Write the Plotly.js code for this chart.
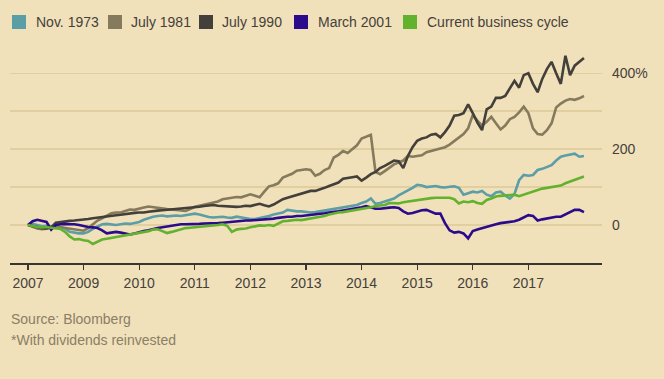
<!DOCTYPE html>
<html>
<head>
<meta charset="utf-8">
<script src="https://cdn.plot.ly/plotly-3.0.1.min.js"></script>
<style>
html,body{margin:0;padding:0;background:#f1e1ba;}
#chart{width:664px;height:379px;}
</style>
</head>
<body>
<div id="chart"></div>
<script>
// months since the start of each business cycle
var months = [0,1,2,3,4,5,6,7,8,9,10,11,12,13,14,15,16,17,18,19,20,21,22,23,24,25,26,27,28,29,
30,31,32,33,34,35,36,37,38,39,40,41,42,43,44,45,46,47,48,49,50,51,52,53,54,55,56,57,58,59,
60,61,62,63,64,65,66,67,68,69,70,71,72,73,74,75,76,77,78,79,80,81,82,83,84,85,86,87,88,89,
90,91,92,93,94,95,96,97,98,99,100,101,102,103,104,105,106,107,108,109,110,111,112,113,114,115,116,117,118,119,120];

var seriesNames = ["Nov. 1973", "July 1981", "July 1990", "March 2001", "Current business cycle"];

var nov1973 = [0,3,0,-3,-2,-4,-6,-5,-9,-18,
-20,-22,-22,-18,-10,-5,2,3,1,0,
2,4,3,6,8,14,19,22,24,25,
23,24,25,24,26,29,30,28,24,21,
20,21,22,20,19,22,20,18,16,16,
18,20,24,28,30,33,40,38,36,36,
34,33,34,36,37,40,42,44,46,48,
50,53,58,62,70,56,58,62,66,70,
78,84,92,98,106,104,100,102,103,100,
99,101,102,98,80,84,88,86,90,80,
76,86,88,78,70,82,118,132,130,132,
145,148,152,158,170,180,183,186,188,180,182];

var july1981 = [0,-5,-9,-11,-10,-6,-4,-6,-8,-10,
-12,-14,-15,-8,3,12,18,25,31,33,
33,37,41,40,42,46,49,47,45,44,
42,41,40,39,37,42,48,51,54,55,
58,62,68,70,72,74,73,77,81,77,
73,88,102,105,110,125,129,135,143,146,
147,145,130,135,145,150,178,185,195,190,
200,210,228,232,238,140,134,142,152,160,
165,170,182,180,182,184,192,195,198,200,
205,212,222,230,240,255,290,275,262,272,
285,268,252,262,279,285,297,312,295,255,
240,238,250,268,310,320,328,332,330,334,340];

var july1990 = [0,-3,-6,-8,-9,-6,6,8,9,11,
12,13,15,16,18,20,21,23,25,26,
27,29,30,32,33,33,35,37,38,39,
40,41,42,44,45,46,47,48,50,52,
53,51,50,48,47,48,49,51,50,53,
56,52,49,54,62,68,72,76,80,83,
86,90,90,93,98,103,107,112,122,125,
126,128,117,125,134,140,150,156,163,170,
168,150,182,205,222,228,231,238,240,231,
245,262,288,290,295,318,295,270,250,305,
312,335,335,340,360,380,362,395,400,372,
350,385,411,430,400,372,446,395,420,430,440];

var march2001 = [0,10,14,12,8,-12,0,2,3,2,
2,0,-3,-5,-6,-8,-14,-22,-20,-18,
-20,-22,-25,-22,-18,-16,-14,-10,-8,-6,
-4,-2,0,2,2,2,3,3,4,4,
4,5,6,7,10,11,11,12,12,13,
14,15,15,17,19,21,22,22,24,24,
25,26,28,30,31,33,34,36,38,40,
42,44,47,50,47,43,43,45,46,47,
45,36,30,32,36,39,40,34,30,30,
5,-14,-20,-18,-22,-35,-16,-12,-8,-4,
-2,2,5,6,8,10,14,20,26,24,
12,15,18,20,22,22,28,34,40,40,34];

var currentCycle = [0,-3,-5,-6,-5,-7,-8,-10,-18,-30,
-38,-37,-40,-42,-50,-44,-38,-36,-34,-31,
-29,-27,-24,-22,-20,-18,-16,-12,-11,-16,
-21,-18,-14,-10,-8,-7,-6,-4,-3,-2,
-1,0,2,-2,-18,-12,-10,-9,-6,-3,
-1,-2,0,-2,4,10,11,12,14,13,
15,16,18,22,24,28,31,33,34,36,
38,41,42,45,47,50,51,53,58,58,
57,60,62,63,66,68,70,71,72,72,
73,72,68,57,62,60,63,58,56,66,
70,75,77,78,80,80,76,80,86,89,
94,96,98,100,103,104,110,114,118,122,128];

var xTickVals = [0,12,24,36,48,60,72,84,96,108];
var xTickText = ["2007","2009","2010","2011","2012","2013","2014","2015","2016","2017"];
var yTickVals = [0,100,200,300,400];
var yTickText = ["0","","200","","400%"];

var colors = ["#5b9ea6", "#857a5c", "#433f3a", "#2b0a8c", "#62b22f"];
var allSeries = [nov1973, july1981, july1990, march2001, currentCycle];

var FONT = "Liberation Sans, Arial, sans-serif";
var TEXT = "#45403a";

var traces = allSeries.map(function(s, i){
  return {x: months, y: s, type: "scatter", mode: "lines", name: seriesNames[i],
          line: {color: colors[i], width: 2.6}, hoverinfo: "skip"};
});

// plot area pixel geometry
var W = 664, H = 379, L = 10, R = 62, T = 45, B = 116;
var pw = W - L - R, ph = H - T - B;
function px(x){ return (x - L) / pw; }
function py(y){ return (H - B - y) / ph; }

var legendBox = [12, 108, 199, 294, 403];
var legendText = [35, 130, 221, 316.5, 425.5];
var shapes = [], annotations = [];
for (var i = 0; i < seriesNames.length; i++) {
  shapes.push({type: "rect", xref: "paper", yref: "paper",
    x0: px(legendBox[i]), x1: px(legendBox[i] + 14), y0: py(29), y1: py(15),
    fillcolor: colors[i], line: {width: 0}});
  annotations.push({xref: "paper", yref: "paper", x: px(legendText[i] - 1), y: py(22),
    xanchor: "left", yanchor: "middle", showarrow: false, text: seriesNames[i],
    font: {family: FONT, size: 14, color: TEXT}});
}
annotations.push({xref: "paper", yref: "paper", x: px(9), y: py(319), xanchor: "left", yanchor: "middle",
  showarrow: false, text: "Source: Bloomberg", font: {family: FONT, size: 14, color: "#8a7e66"}});
annotations.push({xref: "paper", yref: "paper", x: px(9), y: py(340), xanchor: "left", yanchor: "middle",
  showarrow: false, text: "*With dividends reinvested", font: {family: FONT, size: 14, color: "#8a7e66"}});

var layout = {
  width: W, height: H,
  margin: {l: L, r: R, t: T, b: B, pad: 0},
  paper_bgcolor: "#f1e1ba", plot_bgcolor: "#f1e1ba",
  showlegend: false,
  font: {family: FONT, size: 14, color: TEXT},
  xaxis: {range: [(L - 28) / 4.633, (W - R - 28) / 4.633], tickmode: "array",
    tickvals: xTickVals, ticktext: xTickText, ticks: "outside", ticklen: 5, tickwidth: 1.3,
    tickcolor: "#3a352f", showline: true, linecolor: "#3a352f", linewidth: 1.6,
    showgrid: false, zeroline: false, tickfont: {family: FONT, size: 14, color: TEXT},
    ticklabelstandoff: 2, fixedrange: true},
  yaxis: {side: "right", range: [-100, -100 + ph / 0.3795], tickmode: "array",
    tickvals: yTickVals, ticktext: yTickText, ticks: "", showline: false, zeroline: false,
    gridcolor: "#e2cf9f", gridwidth: 1.5, ticklabelstandoff: 9,
    tickfont: {family: FONT, size: 14, color: TEXT}, fixedrange: true},
  shapes: shapes,
  annotations: annotations
};

Plotly.newPlot("chart", traces, layout, {displayModeBar: false, staticPlot: true});
</script>
</body>
</html>
